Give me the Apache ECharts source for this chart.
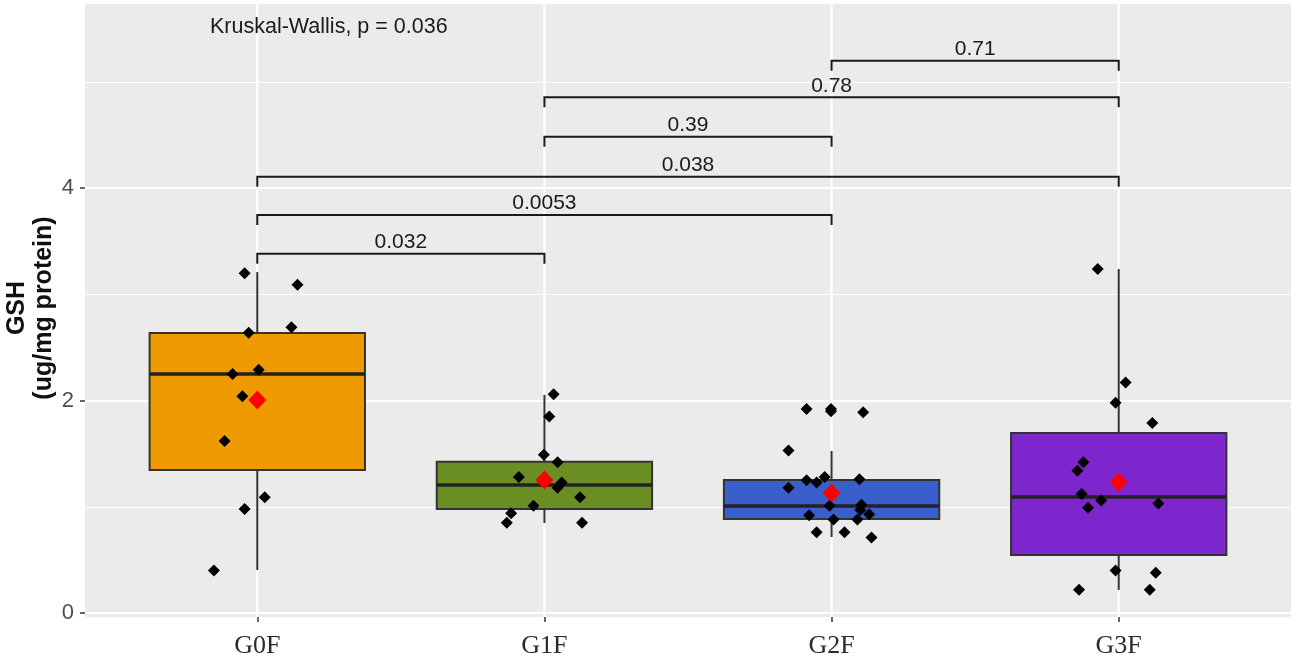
<!DOCTYPE html>
<html>
<head>
<meta charset="utf-8">
<title>GSH by group</title>
<script src="https://cdn.jsdelivr.net/npm/echarts@6/dist/echarts.min.js"></script>
<style>
  html, body { margin: 0; padding: 0; background: #fff; }
  #chart { width: 1299px; height: 671px; }
</style>
</head>
<body>
<div id="chart"></div>
<script>
const groups = ['G0F', 'G1F', 'G2F', 'G3F'];

// whisker low, Q1, median, Q3, whisker high
const boxStats = [
  [0.405, 1.347, 2.25, 2.637, 3.21],
  [0.847, 0.979, 1.205, 1.425, 2.053],
  [0.716, 0.885, 1.008, 1.252, 1.525],
  [0.217, 0.546, 1.092, 1.695, 3.239],
];
const groupMeans = [2.006, 1.252, 1.13, 1.234];

// raw points and their horizontal jitter (in group units)
const g0fValues = [3.20, 3.09, 2.69, 2.64, 2.25, 2.29, 2.04, 1.62, 1.09, 0.98, 0.40];
const g0fJitter = [-0.044, 0.140, 0.119, -0.030, -0.086, 0.005, -0.052, -0.114, 0.026, -0.044, -0.151];
const g1fValues = [2.06, 1.85, 1.49, 1.42, 1.28, 1.23, 1.18, 1.09, 1.01, 0.94, 0.85, 0.85];
const g1fJitter = [0.032, 0.017, -0.002, 0.046, -0.089, 0.060, 0.046, 0.124, -0.038, -0.116, -0.131, 0.131];
const g2fValues = [1.92, 1.92, 1.90, 1.89, 1.53, 1.25, 1.23, 1.28, 1.26, 1.18, 1.01, 1.02, 0.97, 0.93, 0.92, 0.88, 0.88, 0.76, 0.76, 0.71];
const g2fJitter = [-0.087, -0.002, -0.002, 0.110, -0.150, -0.087, -0.052, -0.024, 0.097, -0.150, -0.007, 0.104, 0.100, 0.131, -0.078, 0.007, 0.090, -0.052, 0.045, 0.139];
const g3fValues = [3.24, 2.17, 1.98, 1.79, 1.42, 1.34, 1.12, 1.06, 0.99, 1.03, 0.40, 0.38, 0.22, 0.22];
const g3fJitter = [-0.073, 0.024, -0.011, 0.117, -0.123, -0.144, -0.129, -0.061, -0.107, 0.138, -0.011, 0.129, -0.138, 0.108];

// pairwise comparisons
const comparisons = [[0, 1], [0, 2], [0, 3], [1, 2], [1, 3], [2, 3]];
const bracketY = [3.383, 3.748, 4.108, 4.485, 4.856, 5.20];
const pLabels = ['0.032', '0.0053', '0.038', '0.39', '0.78', '0.71'];

const yTicks = [0, 2, 4];
const kruskalLabel = 'Kruskal-Wallis, p = 0.036';

const Y_MAX = 5.744;
const BOX_WIDTH = 0.75;
const BRACKET_TIP = 0.094;
const boxColors = ['#EE9A00', '#6B8E23', '#3A5FCD', '#7D26CD'];
const SANS = 'Liberation Sans, Arial, sans-serif';
const SERIF = 'Liberation Serif, Times New Roman, serif';

const pointSets = [
  [g0fValues, g0fJitter],
  [g1fValues, g1fJitter],
  [g2fValues, g2fJitter],
  [g3fValues, g3fJitter],
];

function jitterPoints() {
  const out = [];
  pointSets.forEach(([values, jitter], g) => {
    values.forEach((v, i) => out.push([g + jitter[i], v]));
  });
  return out;
}

function renderBox(params, api) {
  const x = api.value(0);
  const lo = api.coord([x, api.value(1)]);
  const q1 = api.coord([x, api.value(2)]);
  const med = api.coord([x, api.value(3)]);
  const q3 = api.coord([x, api.value(4)]);
  const hi = api.coord([x, api.value(5)]);
  const half = api.size([BOX_WIDTH, 0])[0] / 2;
  const cs = params.coordSys;
  const edge = '#333333';
  return {
    type: 'group',
    children: [
      // vertical panel grid line for this group
      {
        type: 'line',
        shape: { x1: lo[0], y1: cs.y, x2: lo[0], y2: cs.y + cs.height + 4 },
        style: { stroke: '#ffffff', lineWidth: 2.2 },
      },
      {
        type: 'line',
        shape: { x1: hi[0], y1: hi[1], x2: q3[0], y2: q3[1] },
        style: { stroke: edge, lineWidth: 2 },
      },
      {
        type: 'line',
        shape: { x1: q1[0], y1: q1[1], x2: lo[0], y2: lo[1] },
        style: { stroke: edge, lineWidth: 2 },
      },
      {
        type: 'rect',
        shape: { x: q3[0] - half, y: q3[1], width: half * 2, height: q1[1] - q3[1] },
        style: { fill: boxColors[params.dataIndex], stroke: edge, lineWidth: 2 },
      },
      {
        type: 'line',
        shape: { x1: med[0] - half, y1: med[1], x2: med[0] + half, y2: med[1] },
        style: { stroke: '#222222', lineWidth: 3.5 },
      },
    ],
  };
}

function renderBracket(params, api) {
  const y = api.value(2);
  const left = api.coord([api.value(0), y]);
  const right = api.coord([api.value(1), y]);
  const tip = api.size([0, BRACKET_TIP])[1];
  return {
    type: 'group',
    children: [
      {
        type: 'polyline',
        shape: {
          points: [
            [left[0], left[1] + tip],
            [left[0], left[1]],
            [right[0], right[1]],
            [right[0], right[1] + tip],
          ],
        },
        style: { stroke: '#1a1a1a', lineWidth: 2, fill: null },
      },
      {
        type: 'text',
        x: (left[0] + right[0]) / 2,
        y: left[1] - 1,
        style: {
          text: pLabels[params.dataIndex],
          fill: '#1a1a1a',
          fontSize: 21,
          fontFamily: SANS,
          align: 'center',
          verticalAlign: 'bottom',
          textAlign: 'center',
          textVerticalAlign: 'bottom',
        },
      },
    ],
  };
}

const chart = echarts.init(document.getElementById('chart'));

chart.setOption({
  animation: false,
  backgroundColor: '#ffffff',
  title: {
    text: kruskalLabel,
    left: 210,
    top: 16,
    padding: 0,
    textStyle: { fontSize: 21.5, fontWeight: 'normal', fontFamily: SANS, color: '#1a1a1a' },
  },
  graphic: [
    {
      type: 'rect',
      z: -10,
      silent: true,
      shape: { x: 85, y: 3, width: 1206, height: 614 },
      style: { fill: '#EBEBEB' },
    },
  ],
  grid: { left: 85, right: 8, top: 3, bottom: 58, containLabel: false, outerBoundsMode: 'none' },
  xAxis: {
    type: 'value',
    min: -0.6,
    max: 3.6,
    offset: 4,
    axisLine: { show: false, onZero: false },
    axisTick: {
      show: true,
      length: 5,
      customValues: groups.map((g, i) => i),
      lineStyle: { color: '#333333', width: 1.5 },
    },
    axisLabel: {
      customValues: groups.map((g, i) => i),
      formatter: (v) => groups[Math.round(v)] || '',
      margin: 16,
      fontSize: 26,
      fontFamily: SERIF,
      color: '#2b2b2b',
    },
    splitLine: { show: false },
  },
  yAxis: [
    {
      type: 'value',
      min: 0,
      max: Y_MAX,
      interval: 2,
      name: 'GSH\n(ug/mg protein)',
      nameLocation: 'middle',
      nameRotate: 90,
      nameGap: 27,
      nameMoveOverlap: false,
      nameTextStyle: {
        fontSize: 25,
        fontWeight: 'bold',
        fontFamily: SANS,
        color: '#111111',
        lineHeight: 27,
      },
      axisLine: { show: false, onZero: false },
      axisTick: {
        show: true,
        length: 5,
        customValues: yTicks,
        lineStyle: { color: '#333333', width: 1.5 },
      },
      axisLabel: {
        customValues: yTicks,
        margin: 11,
        fontSize: 22,
        fontFamily: SANS,
        color: '#4d4d4d',
      },
      splitLine: { show: true, lineStyle: { color: '#ffffff', width: 2.2 } },
    },
    {
      type: 'value',
      min: 0,
      max: Y_MAX,
      interval: 1,
      position: 'right',
      axisLine: { show: false, onZero: false },
      axisTick: { show: false },
      axisLabel: { show: false },
      splitLine: { show: true, lineStyle: { color: '#ffffff', width: 1.1 } },
    },
  ],
  series: [
    {
      type: 'custom',
      name: 'box',
      z: 2,
      renderItem: renderBox,
      encode: { x: 0, y: [1, 2, 3, 4, 5] },
      data: boxStats.map((s, i) => [i, ...s]),
    },
    {
      type: 'scatter',
      name: 'points',
      z: 3,
      symbol: 'diamond',
      symbolSize: 12,
      itemStyle: { color: '#000000', opacity: 1 },
      data: jitterPoints(),
    },
    {
      type: 'scatter',
      name: 'mean',
      z: 4,
      symbol: 'diamond',
      symbolSize: [18, 19],
      itemStyle: { color: '#ff0000', opacity: 1 },
      data: groupMeans.map((m, i) => [i, m]),
    },
    {
      type: 'custom',
      name: 'brackets',
      z: 5,
      renderItem: renderBracket,
      encode: { x: [0, 1], y: 2 },
      data: comparisons.map((c, i) => [c[0], c[1], bracketY[i]]),
    },
  ],
});
</script>
</body>
</html>
